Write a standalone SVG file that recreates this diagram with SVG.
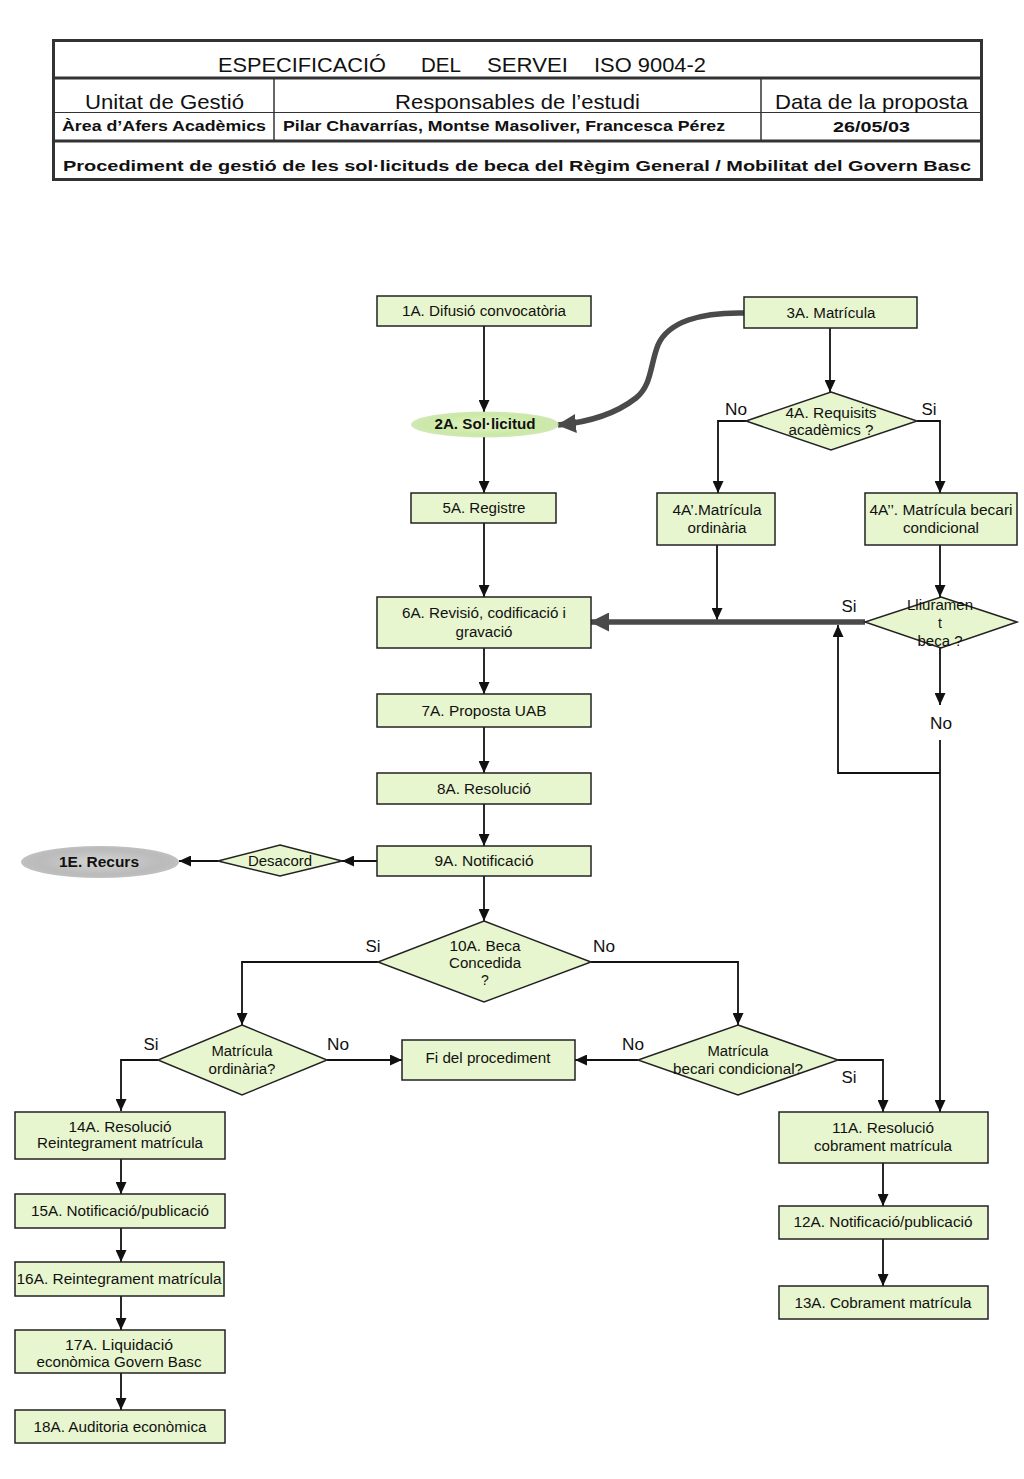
<svg xmlns="http://www.w3.org/2000/svg" width="1024" height="1479" viewBox="0 0 1024 1479">
<style>
text{font-family:"Liberation Sans",Arial,Helvetica,sans-serif;fill:#111}
.t{font-size:14px;text-anchor:middle}
.tb{font-size:14px;text-anchor:middle;font-weight:bold}
.lb{font-size:16px;text-anchor:middle}
.h{font-size:21px}
.hb{font-size:15px;font-weight:bold}
.n{fill:#e8f6cf;stroke:#222;stroke-width:1.5}
.c{fill:none;stroke:#111;stroke-width:1.8;marker-end:url(#a)}
.k{fill:none;stroke:#4a4a4a;stroke-width:5.5;marker-end:url(#b)}
.tl{stroke:#333;fill:none}
</style>
<defs>
<marker id="a" viewBox="0 0 12 11" refX="12" refY="5.5" markerWidth="12" markerHeight="11" orient="auto" markerUnits="userSpaceOnUse"><path d="M0,0L12,5.5L0,11z" fill="#111"/></marker>
<marker id="b" viewBox="0 0 19 19" refX="18" refY="9.5" markerWidth="19" markerHeight="19" orient="auto" markerUnits="userSpaceOnUse"><path d="M0,0L19,9.5L0,19z" fill="#4a4a4a"/></marker>
<radialGradient id="gg" cx="0.5" cy="0.5" r="0.5"><stop offset="0" stop-color="#e6f6cc"/><stop offset="0.7" stop-color="#cdeaa6"/><stop offset="1" stop-color="#b3da86" stop-opacity="0.6"/></radialGradient>
<radialGradient id="gr" cx="0.5" cy="0.5" r="0.5"><stop offset="0" stop-color="#d4d4d4"/><stop offset="0.7" stop-color="#bdbdbd"/><stop offset="1" stop-color="#999" stop-opacity="0.6"/></radialGradient>
</defs>
<rect width="1024" height="1479" fill="#fff"/>

<g id="header">
<rect class="tl" x="53.5" y="40.5" width="928" height="139" stroke-width="3"/>
<line class="tl" x1="53" y1="78" x2="982" y2="78" stroke-width="3"/>
<line class="tl" x1="53" y1="112.5" x2="982" y2="112.5" stroke-width="1.2"/>
<line class="tl" x1="53" y1="141" x2="982" y2="141" stroke-width="3"/>
<line class="tl" x1="274" y1="78" x2="274" y2="141" stroke-width="1.5"/>
<line class="tl" x1="761" y1="78" x2="761" y2="141" stroke-width="1.5"/>
<text class="h" x="218" y="72" font-size="19" textLength="168" lengthAdjust="spacingAndGlyphs">ESPECIFICACIÓ</text>
<text class="h" x="421" y="72" font-size="19" textLength="40" lengthAdjust="spacingAndGlyphs">DEL</text>
<text class="h" x="487" y="72" font-size="19" textLength="81" lengthAdjust="spacingAndGlyphs">SERVEI</text>
<text class="h" x="594" y="72" font-size="19" textLength="112" lengthAdjust="spacingAndGlyphs">ISO 9004-2</text>
<text class="h" x="85" y="109" textLength="159" lengthAdjust="spacingAndGlyphs">Unitat de Gestió</text>
<text class="h" x="395" y="109" textLength="245" lengthAdjust="spacingAndGlyphs">Responsables de l’estudi</text>
<text class="h" x="775" y="109" textLength="193" lengthAdjust="spacingAndGlyphs">Data de la proposta</text>
<text class="hb" x="62" y="131" textLength="204" lengthAdjust="spacingAndGlyphs">Àrea d’Afers Acadèmics</text>
<text class="hb" x="283" y="131" textLength="442" lengthAdjust="spacingAndGlyphs">Pilar Chavarrías, Montse Masoliver, Francesca Pérez</text>
<text class="hb" x="833" y="132" font-size="16" textLength="77" lengthAdjust="spacingAndGlyphs">26/05/03</text>
<text class="hb" x="63" y="171" font-size="18" textLength="908" lengthAdjust="spacingAndGlyphs">Procediment de gestió de les sol·licituds de beca del Règim General / Mobilitat del Govern Basc</text>
</g>

<g id="connectors">
<path class="c" d="M484,326V412"/>
<path class="c" d="M830,328V392"/>
<path class="k" d="M745,313C700,312 668,322 658,345C650,365 652,385 636,398C618,412 592,422 558,425"/>
<path class="c" d="M746,421H718V493"/>
<path class="c" d="M917,421H940V493"/>
<path class="c" d="M484,437V493"/>
<path class="c" d="M484,523V597"/>
<path class="c" d="M717,545V620"/>
<path class="c" d="M940,545V597"/>
<path class="k" d="M865,622H591"/>
<path class="c" d="M940,648V705"/>
<path class="c" d="M940,740V1112"/>
<path class="c" d="M940,773H838V625"/>
<path class="c" d="M484,648V694"/>
<path class="c" d="M484,727V773"/>
<path class="c" d="M484,804V846"/>
<path class="c" d="M377,861H342"/>
<path class="c" d="M218,861H179"/>
<path class="c" d="M484,876V921"/>
<path class="c" d="M378,962H242V1025"/>
<path class="c" d="M591,962H738V1025"/>
<path class="c" d="M327,1060H402"/>
<path class="c" d="M638,1060H575"/>
<path class="c" d="M158,1060H121V1111"/>
<path class="c" d="M838,1060H883V1112"/>
<path class="c" d="M883,1163V1206"/>
<path class="c" d="M883,1239V1286"/>
<path class="c" d="M121,1159V1194"/>
<path class="c" d="M121,1228V1262"/>
<path class="c" d="M121,1296V1330"/>
<path class="c" d="M121,1373V1410"/>
<text class="lb" x="736" y="415" textLength="22" lengthAdjust="spacingAndGlyphs">No</text>
<text class="lb" x="929" y="415" textLength="15" lengthAdjust="spacingAndGlyphs">Si</text>
<text class="lb" x="849" y="612" textLength="15" lengthAdjust="spacingAndGlyphs">Si</text>
<text class="lb" x="941" y="729" textLength="22" lengthAdjust="spacingAndGlyphs">No</text>
<text class="lb" x="373" y="952" textLength="15" lengthAdjust="spacingAndGlyphs">Si</text>
<text class="lb" x="604" y="952" textLength="22" lengthAdjust="spacingAndGlyphs">No</text>
<text class="lb" x="151" y="1050" textLength="15" lengthAdjust="spacingAndGlyphs">Si</text>
<text class="lb" x="338" y="1050" textLength="22" lengthAdjust="spacingAndGlyphs">No</text>
<text class="lb" x="633" y="1050" textLength="22" lengthAdjust="spacingAndGlyphs">No</text>
<text class="lb" x="849" y="1083" textLength="15" lengthAdjust="spacingAndGlyphs">Si</text>
</g>

<g id="n1A"><rect class="n" x="377" y="296" width="214" height="30"/><text class="t" x="484" y="316" textLength="164" lengthAdjust="spacingAndGlyphs">1A. Difusió convocatòria</text></g>
<g id="n3A"><rect class="n" x="744" y="297" width="173" height="31"/><text class="t" x="831" y="318" textLength="89" lengthAdjust="spacingAndGlyphs">3A. Matrícula</text></g>
<g id="n2A"><ellipse cx="485" cy="424.5" rx="74" ry="13" fill="url(#gg)"/><text class="tb" x="485" y="429" textLength="101" lengthAdjust="spacingAndGlyphs">2A. Sol·licitud</text></g>
<g id="n4A"><polygon class="n" points="831,392 917,421 831,450 746,421"/><text class="t" x="831" y="418" textLength="91" lengthAdjust="spacingAndGlyphs">4A. Requisits</text><text class="t" x="831" y="435" textLength="85" lengthAdjust="spacingAndGlyphs">acadèmics ?</text></g>
<g id="n4A1"><rect class="n" x="657" y="493" width="118" height="52"/><text class="t" x="717" y="515" textLength="89" lengthAdjust="spacingAndGlyphs">4A’.Matrícula</text><text class="t" x="717" y="533" textLength="59" lengthAdjust="spacingAndGlyphs">ordinària</text></g>
<g id="n4A2"><rect class="n" x="865" y="493" width="152" height="52"/><text class="t" x="941" y="515" textLength="143" lengthAdjust="spacingAndGlyphs">4A’’. Matrícula becari</text><text class="t" x="941" y="533" textLength="76" lengthAdjust="spacingAndGlyphs">condicional</text></g>
<g id="n5A"><rect class="n" x="411" y="493" width="145" height="30"/><text class="t" x="484" y="513" textLength="83" lengthAdjust="spacingAndGlyphs">5A. Registre</text></g>
<g id="n6A"><rect class="n" x="377" y="597" width="214" height="51"/><text class="t" x="484" y="618" textLength="164" lengthAdjust="spacingAndGlyphs">6A. Revisió, codificació i</text><text class="t" x="484" y="637" textLength="57" lengthAdjust="spacingAndGlyphs">gravació</text></g>
<g id="nLl"><polygon class="n" points="941,597 1017,622 941,648 865,622"/><text class="t" x="940" y="610" textLength="66" lengthAdjust="spacingAndGlyphs">Lliuramen</text><text class="t" x="940" y="628">t</text><text class="t" x="940" y="646" textLength="45" lengthAdjust="spacingAndGlyphs">beca ?</text></g>
<g id="n7A"><rect class="n" x="377" y="694" width="214" height="33"/><text class="t" x="484" y="716" textLength="125" lengthAdjust="spacingAndGlyphs">7A. Proposta UAB</text></g>
<g id="n8A"><rect class="n" x="377" y="773" width="214" height="31"/><text class="t" x="484" y="794" textLength="94" lengthAdjust="spacingAndGlyphs">8A. Resolució</text></g>
<g id="n9A"><rect class="n" x="377" y="846" width="214" height="30"/><text class="t" x="484" y="866" textLength="99" lengthAdjust="spacingAndGlyphs">9A. Notificació</text></g>
<g id="nDes"><polygon class="n" points="280,845 342,861 280,876 218,861"/><text class="t" x="280" y="866" textLength="64" lengthAdjust="spacingAndGlyphs">Desacord</text></g>
<g id="n1E"><ellipse cx="100" cy="862" rx="79" ry="16" fill="url(#gr)"/><text class="tb" x="99" y="867" textLength="80" lengthAdjust="spacingAndGlyphs">1E. Recurs</text></g>
<g id="n10A"><polygon class="n" points="484,921 591,962 484,1002 378,962"/><text class="t" x="485" y="951" textLength="71" lengthAdjust="spacingAndGlyphs">10A. Beca</text><text class="t" x="485" y="968" textLength="72" lengthAdjust="spacingAndGlyphs">Concedida</text><text class="t" x="485" y="985">?</text></g>
<g id="nOrd"><polygon class="n" points="242,1025 327,1060 242,1095 158,1060"/><text class="t" x="242" y="1056" textLength="61" lengthAdjust="spacingAndGlyphs">Matrícula</text><text class="t" x="242" y="1074" textLength="67" lengthAdjust="spacingAndGlyphs">ordinària?</text></g>
<g id="nFi"><rect class="n" x="402" y="1040" width="173" height="40"/><text class="t" x="488" y="1063" textLength="125" lengthAdjust="spacingAndGlyphs">Fi del procediment</text></g>
<g id="nBec"><polygon class="n" points="738,1025 838,1060 738,1095 638,1060"/><text class="t" x="738" y="1056" textLength="61" lengthAdjust="spacingAndGlyphs">Matrícula</text><text class="t" x="738" y="1074" textLength="130" lengthAdjust="spacingAndGlyphs">becari condicional?</text></g>
<g id="n11A"><rect class="n" x="779" y="1112" width="209" height="51"/><text class="t" x="883" y="1133" textLength="102" lengthAdjust="spacingAndGlyphs">11A. Resolució</text><text class="t" x="883" y="1151" textLength="138" lengthAdjust="spacingAndGlyphs">cobrament matrícula</text></g>
<g id="n12A"><rect class="n" x="779" y="1206" width="209" height="33"/><text class="t" x="883" y="1227" textLength="179" lengthAdjust="spacingAndGlyphs">12A. Notificació/publicació</text></g>
<g id="n13A"><rect class="n" x="779" y="1286" width="209" height="33"/><text class="t" x="883" y="1308" textLength="177" lengthAdjust="spacingAndGlyphs">13A. Cobrament matrícula</text></g>
<g id="n14A"><rect class="n" x="15" y="1112" width="210" height="47"/><text class="t" x="120" y="1132" textLength="103" lengthAdjust="spacingAndGlyphs">14A. Resolució</text><text class="t" x="120" y="1148" textLength="166" lengthAdjust="spacingAndGlyphs">Reintegrament matrícula</text></g>
<g id="n15A"><rect class="n" x="15" y="1194" width="210" height="34"/><text class="t" x="120" y="1216" textLength="178" lengthAdjust="spacingAndGlyphs">15A. Notificació/publicació</text></g>
<g id="n16A"><rect class="n" x="15" y="1262" width="209" height="34"/><text class="t" x="119" y="1284" textLength="205" lengthAdjust="spacingAndGlyphs">16A. Reintegrament matrícula</text></g>
<g id="n17A"><rect class="n" x="15" y="1330" width="210" height="43"/><text class="t" x="119" y="1350" textLength="108" lengthAdjust="spacingAndGlyphs">17A. Liquidació</text><text class="t" x="119" y="1367" textLength="165" lengthAdjust="spacingAndGlyphs">econòmica Govern Basc</text></g>
<g id="n18A"><rect class="n" x="15" y="1410" width="210" height="33"/><text class="t" x="120" y="1432" textLength="173" lengthAdjust="spacingAndGlyphs">18A. Auditoria econòmica</text></g>
</svg>
